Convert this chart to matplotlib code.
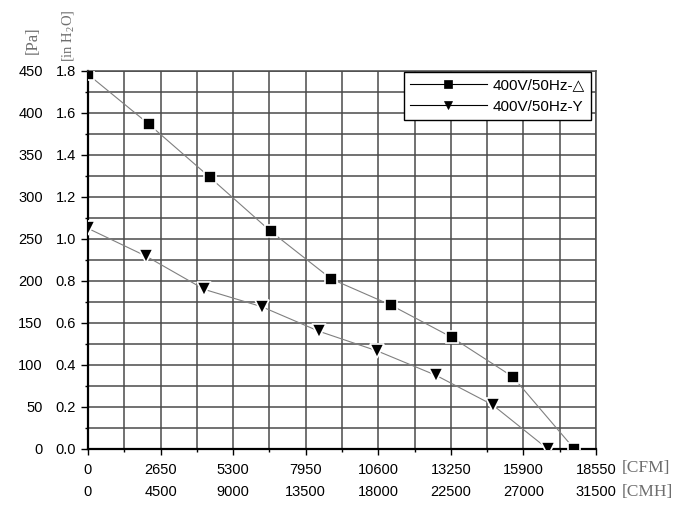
import numpy as np
import matplotlib
matplotlib.use('Agg')
import matplotlib.pyplot as plt

plt.rcParams['font.family'] = ['Liberation Sans', 'DejaVu Sans']
plt.rcParams['mathtext.default'] = 'regular'

# fan curves (airflow in CFM, pressure in Pa)
cfm_delta = [0, 2228, 4444, 6665, 8885, 11055, 13282, 15510, 17760]
pa_delta = [446, 386.5, 323.6, 259.3, 202.4, 171.4, 133, 86, 0]
cfm_star = [0, 2125, 4247, 6344, 8447, 10565, 12709, 14779, 16788]
pa_star = [262.6, 229.5, 190, 169.4, 140, 116.7, 87.7, 52.4, 0]

label_delta = '400V/50Hz-△'
label_star = '400V/50Hz-Y'

cfm_ticks = np.arange(0, 18551, 2650)
cmh_ticks = np.arange(0, 31501, 4500)
pa_ticks = np.arange(0, 451, 50)
inh2o_ticks = np.arange(0, 1.81, 0.2)

fig = plt.figure(figsize=(7, 5.15), dpi=100)
ax = fig.add_axes([88 / 700, (515 - 449) / 515, 508 / 700, 378 / 515])

grid_col = '#4a4a4a'
ax.set_xlim(0, 18550)
ax.set_ylim(0, 450)
ax.set_xticks(cfm_ticks)
ax.set_xticks(np.arange(0, 18551, 1325), minor=True)
ax.set_yticks(pa_ticks)
ax.set_yticks(np.arange(0, 451, 25), minor=True)
ax.grid(True, which='both', color=grid_col, linewidth=1.1)
ax.set_axisbelow(True)

for s in ['top', 'right']:
    ax.spines[s].set_color(grid_col)
    ax.spines[s].set_linewidth(1.1)
for s in ['left', 'bottom']:
    ax.spines[s].set_color('black')
    ax.spines[s].set_linewidth(1.6)

fs = 10.5
ax.tick_params(axis='x', which='major', length=4, width=1, pad=6, labelsize=fs)
ax.tick_params(axis='x', which='minor', length=2, width=1)
ax.tick_params(axis='y', which='major', length=5, width=1, pad=27.5, labelsize=fs)
ax.tick_params(axis='y', which='minor', length=2.5, width=1)
ax.set_xticklabels([str(v) for v in cfm_ticks])
ax.set_yticklabels([str(v) for v in pa_ticks])

# second scales: in H2O and CMH
sec_y = ax.secondary_yaxis('left', functions=(lambda p: p / 250.0, lambda h: h * 250.0))
sec_y.set_yticks(inh2o_ticks)
sec_y.set_yticklabels(['%.1f' % v for v in inh2o_ticks])
sec_y.tick_params(length=0, pad=8.5, labelsize=fs)
sec_y.spines['left'].set_visible(False)

sec_x = ax.secondary_xaxis('bottom', functions=(lambda c: c * 31500 / 18550, lambda m: m * 18550 / 31500))
sec_x.set_xticks(cmh_ticks)
sec_x.set_xticklabels([str(v) for v in cmh_ticks])
sec_x.tick_params(length=0, pad=26, labelsize=fs)
sec_x.spines['bottom'].set_visible(False)

ax.plot(cfm_delta, pa_delta, color='#808080', linewidth=0.8, marker='s',
        markersize=8, markerfacecolor='black', markeredgecolor='white',
        markeredgewidth=1.2, label=label_delta, zorder=3)
ax.plot(cfm_star, pa_star, color='#808080', linewidth=0.8, marker='v',
        markersize=9.5, markerfacecolor='black', markeredgecolor='white',
        markeredgewidth=1.2, label=label_star, zorder=3)

leg = ax.legend(loc='upper right', bbox_to_anchor=((591 - 88) / 508, (449 - 72) / 378),
                borderaxespad=0, fancybox=False, framealpha=1, edgecolor='black',
                fontsize=11, handlelength=5.0, handletextpad=0.4,
                labelspacing=0.5, borderpad=0.4)
leg.get_frame().set_linewidth(1.0)
for h in leg.legend_handles:
    h.set_markeredgecolor('black')
    h.set_markeredgewidth(0.5)
    h.set_color('black')
    h.set_markersize(6)

unit_col = '#6e6e6e'
fig.text(33 / 700, 1 - 40 / 515, '[Pa]', rotation=90, ha='center', va='center',
         family='Liberation Serif', fontsize=12, color=unit_col)
fig.text(68 / 700, 1 - 36 / 515, '[in H$_2$O]', rotation=90, ha='center', va='center',
         family='Liberation Serif', fontsize=10.5, color=unit_col)
fig.text(622 / 700, 1 - 468 / 515, '[CFM]', ha='left', va='center',
         family='Liberation Serif', fontsize=12.5, color=unit_col)
fig.text(622 / 700, 1 - 492 / 515, '[CMH]', ha='left', va='center',
         family='Liberation Serif', fontsize=12.5, color=unit_col)

fig.savefig('out.png', dpi=100)
